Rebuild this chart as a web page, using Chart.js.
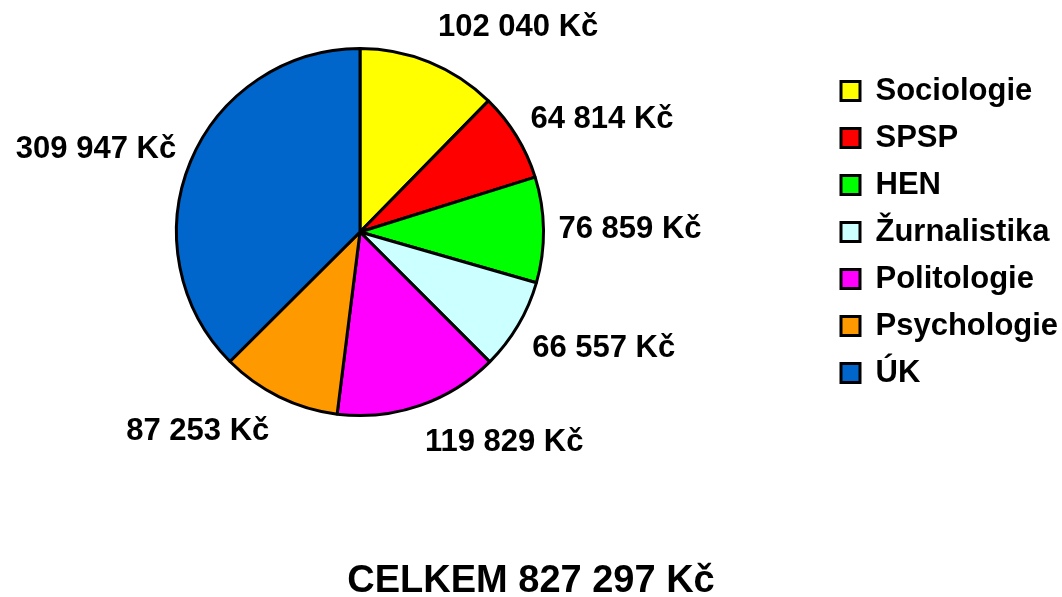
<!DOCTYPE html>
<html lang="cs">
<head>
<meta charset="utf-8">
<title>Rozpočet</title>
<script src="https://cdn.jsdelivr.net/npm/chart.js"></script>
<style>
  html, body { margin: 0; padding: 0; background: #fff; }
  #wrap { width: 1062px; height: 597px; }
</style>
</head>
<body>
<div id="wrap"><canvas id="graf"></canvas></div>
<script>
// Data
var kategorie = ['Sociologie', 'SPSP', 'HEN', 'Žurnalistika', 'Politologie', 'Psychologie', 'ÚK'];
var castky = [102040, 64814, 76859, 66557, 119829, 87253, 309947];
var barvy = ['#FFFF00', '#FF0000', '#00FF00', '#CCFFFF', '#FF00FF', '#FF9900', '#0066CC'];
var celkem = 'CELKEM 827 297 Kč';

var pismo = 'Liberation Sans, Arial, Helvetica, sans-serif';

function formatKc(v) {
    return String(v).replace(/\B(?=(\d{3})+(?!\d))/g, ' ') + ' Kč';
}

// mezera mezi kolacem a legendou
var mezera = {
    id: 'mezera',
    beforeInit: function(chart) {
        Chart.layouts.addBox(chart, {
            position: 'right', weight: 500, fullSize: false,
            options: {},
            left: 0, top: 0, right: 0, bottom: 0, width: 0, height: 0,
            isHorizontal: function() { return false; },
            update: function(maxWidth, maxHeight) { this.width = 105; this.height = maxHeight; },
            draw: function() {}
        });
    }
};

// popisky hodnot vne vysecí
var popisky = {
    id: 'popisky',
    afterDatasetsDraw: function(chart) {
        var ctx = chart.ctx;
        var meta = chart.getDatasetMeta(0);
        ctx.save();
        ctx.font = 'bold 31px ' + pismo;
        ctx.fillStyle = '#000';
        ctx.textAlign = 'center';
        ctx.textBaseline = 'middle';
        meta.data.forEach(function(arc, i) {
            var p = arc.getProps(['x', 'y', 'startAngle', 'endAngle', 'outerRadius'], true);
            var uhel = (p.startAngle + p.endAngle) / 2;
            var dx = Math.cos(uhel), dy = Math.sin(uhel);
            var r = p.outerRadius + 15 + 10 * Math.pow(Math.abs(dy), 3);
            var ax = p.x + dx * r, ay = p.y + dy * r;
            var text = formatKc(castky[i]);
            var w = ctx.measureText(text).width;
            var sx = Math.max(-1, Math.min(1, dx * 3));
            var sy = dy < 0 ? dy : Math.min(1, dy * 2);
            ctx.fillText(text, ax + sx * w / 2, ay + sy * 15);
        });
        ctx.restore();
    }
};

Chart.defaults.color = '#000';
Chart.defaults.font.family = pismo;

var ctx = document.getElementById('graf').getContext('2d');
var graf = new Chart(ctx, {
    type: 'pie',
    data: {
        labels: kategorie,
        datasets: [{
            data: castky,
            backgroundColor: barvy,
            borderColor: '#000',
            borderWidth: 3
        }]
    },
    options: {
        responsive: true,
        maintainAspectRatio: false,
        animation: false,
        events: [],
        layout: { padding: { top: 47, left: 0, right: 0, bottom: 0 } },
        plugins: {
            legend: {
                position: 'right',
                align: 'center',
                fullSize: false,
                maxWidth: 237,
                labels: {
                    boxWidth: 19,
                    boxHeight: 19,
                    padding: 16,
                    color: '#000',
                    font: { size: 31, weight: 'bold', family: pismo }
                }
            },
            title: {
                display: true,
                text: celkem,
                position: 'bottom',
                color: '#000',
                font: { size: 38, weight: 'bold', family: pismo, lineHeight: 0.84 },
                padding: { top: 148, bottom: 0 }
            },
            tooltip: { enabled: false }
        }
    },
    plugins: [mezera, popisky]
});
</script>
</body>
</html>
